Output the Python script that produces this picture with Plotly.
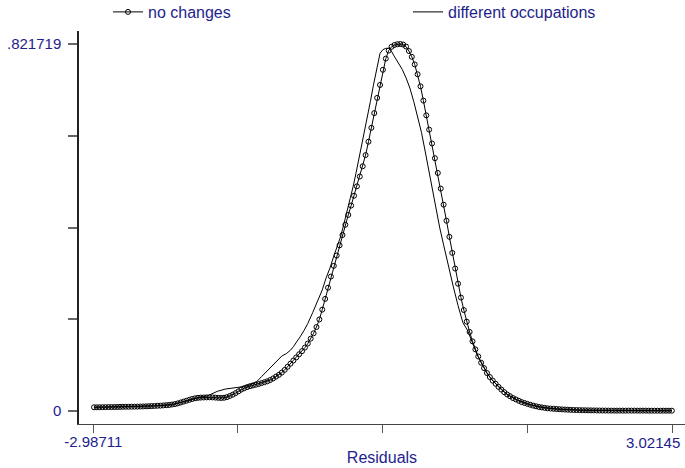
import plotly.graph_objects as go

# ---------------- data ----------------
x_nochange = [
    -2.98, -2.95, -2.92, -2.89, -2.86, -2.83, -2.80, -2.77, -2.74, -2.71,
    -2.68, -2.65, -2.62, -2.59, -2.56, -2.53, -2.50, -2.47, -2.44, -2.41,
    -2.38, -2.35, -2.32, -2.29, -2.26, -2.23, -2.20, -2.17, -2.14, -2.11,
    -2.08, -2.05, -2.02, -1.99, -1.96, -1.93, -1.90, -1.87, -1.84, -1.81,
    -1.78, -1.75, -1.72, -1.69, -1.66, -1.63, -1.60, -1.57, -1.54, -1.51,
    -1.48, -1.45, -1.42, -1.39, -1.36, -1.33, -1.30, -1.27, -1.24, -1.21,
    -1.18, -1.15, -1.12, -1.09, -1.06, -1.03, -1.00, -0.97, -0.94, -0.91,
    -0.88, -0.85, -0.82, -0.79, -0.76, -0.73, -0.70, -0.67, -0.64, -0.61,
    -0.58, -0.55, -0.52, -0.49, -0.46, -0.43, -0.40, -0.37, -0.34, -0.31,
    -0.28, -0.25, -0.22, -0.19, -0.16, -0.13, -0.10, -0.07, -0.04, -0.01,
    0.02, 0.05, 0.08, 0.11, 0.14, 0.17, 0.20, 0.23, 0.26, 0.29,
    0.32, 0.35, 0.38, 0.41, 0.44, 0.47, 0.50, 0.53, 0.56, 0.59,
    0.62, 0.65, 0.68, 0.71, 0.74, 0.77, 0.80, 0.83, 0.86, 0.89,
    0.92, 0.95, 0.98, 1.01, 1.04, 1.07, 1.10, 1.13, 1.16, 1.19,
    1.22, 1.25, 1.28, 1.31, 1.34, 1.37, 1.40, 1.43, 1.46, 1.49,
    1.52, 1.55, 1.58, 1.61, 1.64, 1.67, 1.70, 1.73, 1.76, 1.79,
    1.82, 1.85, 1.88, 1.91, 1.94, 1.97, 2.00, 2.03, 2.06, 2.09,
    2.12, 2.15, 2.18, 2.21, 2.24, 2.27, 2.30, 2.33, 2.36, 2.39,
    2.42, 2.45, 2.48, 2.51, 2.54, 2.57, 2.60, 2.63, 2.66, 2.69,
    2.72, 2.75, 2.78, 2.81, 2.84, 2.87, 2.90, 2.93, 2.96, 2.99,
    3.02,
]
y_nochange = [
    0.0083, 0.0083, 0.0084, 0.0085, 0.0086, 0.0087, 0.0088, 0.0089, 0.0090, 0.0092,
    0.0094, 0.0095, 0.0095, 0.0096, 0.0097, 0.0098, 0.0100, 0.0102, 0.0104, 0.0107,
    0.0110, 0.0113, 0.0117, 0.0120, 0.0125, 0.0130, 0.0135, 0.0145, 0.0155, 0.0170,
    0.0190, 0.0210, 0.0230, 0.0250, 0.0270, 0.0285, 0.0295, 0.0300, 0.0303, 0.0305,
    0.0307, 0.0305, 0.0300, 0.0295, 0.0292, 0.0296, 0.0310, 0.0336, 0.0365, 0.0400,
    0.0440, 0.0480, 0.0510, 0.0535, 0.0555, 0.0572, 0.0588, 0.0605, 0.0625, 0.0645,
    0.0665, 0.0694, 0.0730, 0.0770, 0.0810, 0.0860, 0.0920, 0.0990, 0.1060, 0.1130,
    0.1200, 0.1270, 0.1340, 0.1420, 0.1510, 0.1620, 0.1740, 0.1880, 0.2050, 0.2270,
    0.2510, 0.2760, 0.3010, 0.3250, 0.3480, 0.3710, 0.3940, 0.4170, 0.4390, 0.4600,
    0.4820, 0.5030, 0.5250, 0.5480, 0.5730, 0.6030, 0.6340, 0.6670, 0.7010, 0.7300,
    0.7640, 0.7890, 0.8070, 0.8155, 0.8195, 0.8212, 0.821719, 0.8205, 0.8160, 0.8060,
    0.7930, 0.7760, 0.7540, 0.7270, 0.6950, 0.6620, 0.6300, 0.5990, 0.5660, 0.5330,
    0.4980, 0.4620, 0.4260, 0.3900, 0.3540, 0.3190, 0.2850, 0.2540, 0.2260, 0.2000,
    0.1770, 0.1560, 0.1380, 0.1220, 0.1080, 0.0960, 0.0850, 0.0760, 0.0680, 0.0610,
    0.0540, 0.0480, 0.0420, 0.0370, 0.0330, 0.0290, 0.0260, 0.0230, 0.0200, 0.0180,
    0.0160, 0.0140, 0.0120, 0.0105, 0.0090, 0.0080, 0.0070, 0.0060, 0.0055, 0.0050,
    0.0045, 0.0040, 0.0036, 0.0032, 0.0029, 0.0026, 0.0023, 0.0021, 0.0019, 0.0018,
    0.0016, 0.0015, 0.0014, 0.0013, 0.0012, 0.0011, 0.0010, 0.0010, 0.0009, 0.0009,
    0.0008, 0.0008, 0.0008, 0.0008, 0.0008, 0.0009, 0.0009, 0.0009, 0.0008, 0.0008,
    0.0008, 0.0008, 0.0007, 0.0007, 0.0007, 0.0007, 0.0007, 0.0007, 0.0007, 0.0007,
    0.0007,
]

x_diffocc = [
    -2.98, -2.60, -2.30, -2.15, -2.02, -1.90, -1.80, -1.70, -1.62, -1.54,
    -1.45, -1.37, -1.29, -1.24, -1.19, -1.13, -1.08, -1.03, -0.98, -0.94,
    -0.91, -0.87, -0.84, -0.80, -0.76, -0.71, -0.67, -0.64, -0.61, -0.57,
    -0.53, -0.49, -0.45, -0.42, -0.39, -0.36, -0.32, -0.29, -0.26, -0.23,
    -0.20, -0.17, -0.14, -0.11, -0.08, -0.05, -0.03, -0.01, 0.02, 0.05,
    0.08, 0.11, 0.13, 0.17, 0.22, 0.26, 0.30, 0.34, 0.38, 0.42,
    0.46, 0.49, 0.52, 0.55, 0.58, 0.61, 0.65, 0.70, 0.75, 0.80,
    0.85, 0.90, 0.95, 1.00, 1.05, 1.10, 1.15, 1.20, 1.30, 1.40,
    1.55, 1.70, 1.90, 2.10, 2.40, 2.70, 3.02,
]
y_diffocc = [
    0.0083, 0.0096, 0.0118, 0.0150, 0.0235, 0.0300, 0.0340, 0.0440, 0.0490, 0.0510,
    0.0540, 0.0580, 0.0660, 0.0770, 0.0880, 0.1010, 0.1130, 0.1230, 0.1290, 0.1360,
    0.1440, 0.1560, 0.1660, 0.1800, 0.1960, 0.2200, 0.2410, 0.2560, 0.2710, 0.2980,
    0.3200, 0.3470, 0.3700, 0.3900, 0.4150, 0.4400, 0.4740, 0.5020, 0.5320, 0.5630,
    0.5940, 0.6260, 0.6590, 0.6930, 0.7280, 0.7620, 0.7840, 0.8010, 0.8090, 0.8120,
    0.8120, 0.8050, 0.7970, 0.7830, 0.7650, 0.7460, 0.7230, 0.6930, 0.6600, 0.6240,
    0.5800, 0.5450, 0.5100, 0.4750, 0.4420, 0.4100, 0.3720, 0.3240, 0.2790, 0.2360,
    0.1980, 0.1800, 0.1530, 0.1250, 0.1060, 0.0850, 0.0700, 0.0590, 0.0390, 0.0260,
    0.0140, 0.0070, 0.0033, 0.0017, 0.0009, 0.0008, 0.0007,
]

x_tickvals = [-2.98711, -1.48497, 0.01717, 1.51931, 3.02145]
x_ticktext = ["-2.98711", "", "", "", ""]
x_last_label = "3.02145"
y_tickvals = [0, 0.2054298, 0.4108595, 0.6162893, 0.821719]
y_ticktext = ["0", "", "", "", ".821719"]

series_names = ["no changes", "different occupations"]
x_title = "Residuals"

# ---------------- figure ----------------
TXT = "#1e1e8c"
FONT = "Liberation Sans, Arial, sans-serif"

fig = go.Figure()
fig.add_trace(go.Scatter(
    x=x_nochange, y=y_nochange, mode="lines+markers", name=series_names[0],
    line=dict(color="black", width=1),
    marker=dict(symbol="circle-open", size=5, color="black", line=dict(width=1)),
    legend="legend",
))
fig.add_trace(go.Scatter(
    x=x_diffocc, y=y_diffocc, mode="lines", name=series_names[1],
    line=dict(color="black", width=1),
    legend="legend2",
))

# last x tick label, kept inside the canvas (right-aligned near its tick)
fig.add_annotation(
    x=x_tickvals[-1], xref="x", y=0, yref="paper",
    text=x_last_label, showarrow=False,
    xanchor="right", yanchor="top", xshift=10, yshift=-8,
    font=dict(family=FONT, size=15, color=TXT),
)

legend_common = dict(
    orientation="h", bgcolor="rgba(0,0,0,0)", borderwidth=0,
    font=dict(family=FONT, size=16, color=TXT),
    yanchor="top", xanchor="left", itemwidth=30,
)
fig.update_layout(
    width=685, height=468,
    margin=dict(l=79, r=0, t=31, b=44, pad=0, autoexpand=False),
    paper_bgcolor="white", plot_bgcolor="white",
    font=dict(family=FONT, size=15, color=TXT),
    showlegend=True,
    legend=dict(x=(108 - 79) / 606, y=1 + 36 / 393, **legend_common),
    legend2=dict(x=(408 - 79) / 606, y=1 + 36 / 393, **legend_common),
    xaxis=dict(
        range=[-3.1356, 3.1564], showgrid=False, zeroline=False, automargin=False,
        showline=True, linecolor="#444", linewidth=1,
        ticks="outside", ticklen=8, tickcolor="#555", tickwidth=1,
        tickvals=x_tickvals, ticktext=x_ticktext,
        tickfont=dict(family=FONT, size=15, color=TXT),
        ticklabelstandoff=-4,
        title=dict(text=x_title, font=dict(family=FONT, size=16, color=TXT), standoff=2),
    ),
    yaxis=dict(
        range=[-0.02911, 0.85083], showgrid=False, zeroline=False, automargin=False,
        showline=True, linecolor="#222", linewidth=1.5,
        ticks="outside", ticklen=9, tickcolor="#666", tickwidth=1.5,
        tickvals=y_tickvals, ticktext=y_ticktext,
        tickfont=dict(family=FONT, size=15, color=TXT),
        ticklabelstandoff=4,
    ),
)

fig.write_html("out.html")
